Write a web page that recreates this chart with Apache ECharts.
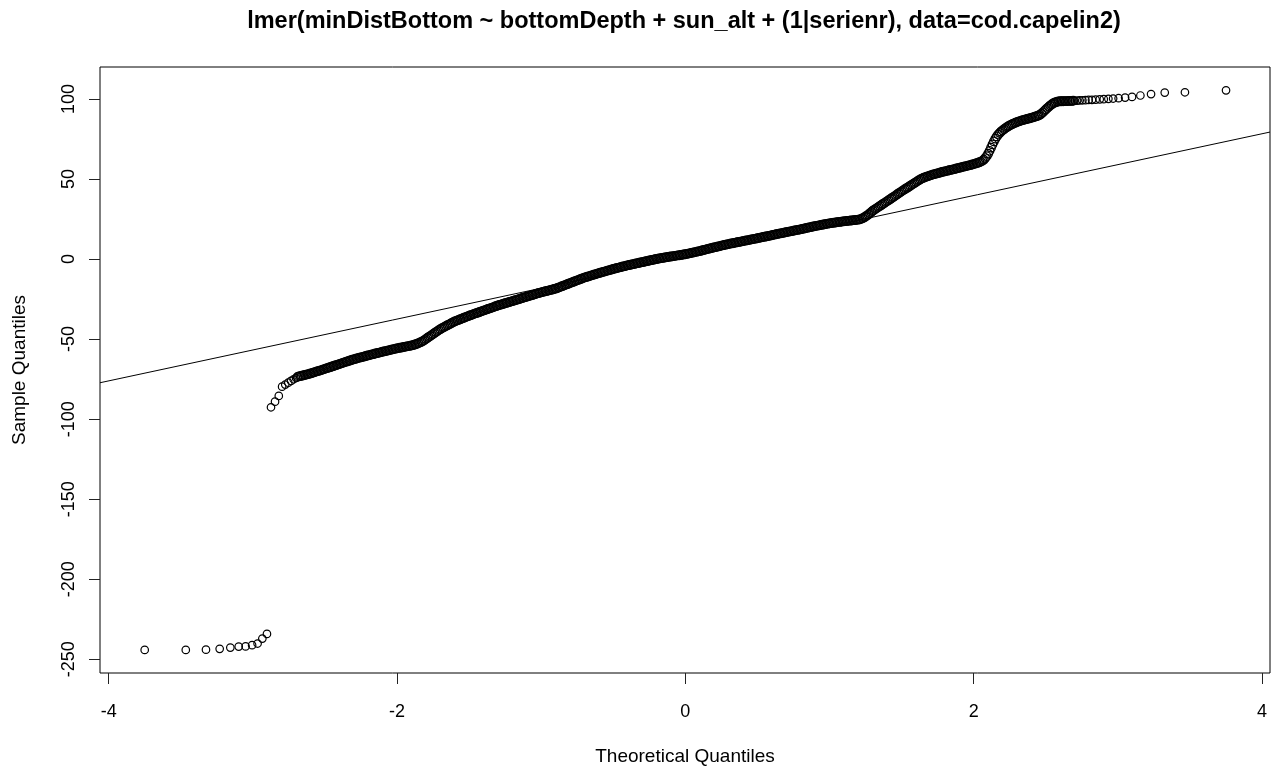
<!DOCTYPE html>
<html>
<head>
<meta charset="utf-8">
<script src="https://cdn.jsdelivr.net/npm/echarts@6/dist/echarts.min.js"></script>
<style>
  html, body { margin: 0; padding: 0; background: #fff; }
  #chart { width: 1282px; height: 771px; }
</style>
</head>
<body>
<div id="chart"></div>
<script>
// Normal Q-Q plot of the model residuals
const plotTitle = 'lmer(minDistBottom ~ bottomDepth + sun_alt + (1|serienr), data=cod.capelin2)';
const xAxisTitle = 'Theoretical Quantiles';
const yAxisTitle = 'Sample Quantiles';

const xTicks = [-4, -2, 0, 2, 4];
const yTicks = [-250, -200, -150, -100, -50, 0, 50, 100];

// lowest order statistics (theoretical quantile, sample quantile)
const lowerTheo = [-3.75, -3.465, -3.325, -3.23, -3.156, -3.098, -3.05, -3.005, -2.967, -2.934,
  -2.902, -2.874, -2.846, -2.82, -2.797, -2.775, -2.754, -2.735, -2.717, -2.70];
const lowerSample = [-244.2, -244.2, -244.0, -243.5, -242.7, -242.1, -242.0, -241.2, -240.2, -237.1,
  -234.2, -92.6, -89.1, -85.5, -79.7, -78.4, -77.2, -76.1, -75.1, -74.3];

// bulk of the sample, one value per 0.01 of theoretical quantile from -2.69 to 2.69
const bulkStart = -2.69;
const bulkStep = 0.01;
const bulkSample = [
  -73.6, -73.3, -73.1, -72.9, -72.7, -72.4, -72.2, -72.0, -71.7, -71.5,
  -71.2, -70.9, -70.6, -70.3, -70.0, -69.8, -69.5, -69.2, -68.9, -68.6,
  -68.3, -68.0, -67.7, -67.4, -67.1, -66.8, -66.5, -66.2, -65.9, -65.6,
  -65.3, -65.0, -64.7, -64.4, -64.1, -63.8, -63.5, -63.2, -62.9, -62.6,
  -62.4, -62.1, -61.9, -61.6, -61.4, -61.2, -60.9, -60.7, -60.4, -60.2,
  -60.0, -59.7, -59.5, -59.3, -59.0, -58.8, -58.6, -58.4, -58.1, -57.9,
  -57.7, -57.5, -57.3, -57.1, -56.9, -56.6, -56.4, -56.2, -56.0, -55.8,
  -55.6, -55.4, -55.3, -55.1, -54.9, -54.7, -54.5, -54.4, -54.2, -54.0,
  -53.8, -53.5, -53.2, -52.9, -52.5, -52.1, -51.7, -51.2, -50.6, -50.0,
  -49.3, -48.7, -48.1, -47.5, -46.9, -46.2, -45.6, -45.0, -44.4, -43.8,
  -43.3, -42.8, -42.3, -41.8, -41.3, -40.9, -40.4, -39.9, -39.4, -39.0,
  -38.6, -38.3, -37.9, -37.6, -37.2, -36.8, -36.5, -36.1, -35.8, -35.4,
  -35.1, -34.8, -34.4, -34.1, -33.8, -33.5, -33.2, -32.8, -32.5, -32.2,
  -31.9, -31.6, -31.2, -30.9, -30.6, -30.3, -30.0, -29.6, -29.3, -29.0,
  -28.7, -28.5, -28.2, -27.9, -27.6, -27.4, -27.1, -26.8, -26.6, -26.3,
  -26.0, -25.7, -25.5, -25.2, -24.9, -24.6, -24.3, -24.1, -23.8, -23.5,
  -23.2, -23.0, -22.7, -22.4, -22.2, -21.9, -21.6, -21.3, -21.1, -20.8,
  -20.6, -20.3, -20.1, -19.9, -19.7, -19.4, -19.2, -19.0, -18.7, -18.5,
  -18.2, -17.8, -17.5, -17.1, -16.8, -16.4, -16.1, -15.7, -15.4, -15.0,
  -14.7, -14.3, -14.0, -13.6, -13.3, -13.0, -12.6, -12.3, -11.9, -11.6,
  -11.3, -11.0, -10.8, -10.5, -10.2, -9.9, -9.6, -9.4, -9.1, -8.8,
  -8.5, -8.3, -8.0, -7.8, -7.5, -7.2, -7.0, -6.7, -6.5, -6.2,
  -6.0, -5.7, -5.5, -5.3, -5.0, -4.8, -4.6, -4.4, -4.1, -3.9,
  -3.7, -3.5, -3.3, -3.1, -2.9, -2.7, -2.5, -2.3, -2.1, -1.9,
  -1.7, -1.5, -1.3, -1.1, -0.9, -0.7, -0.5, -0.3, -0.1, 0.1,
  0.3, 0.4, 0.6, 0.7, 0.9, 1.0, 1.2, 1.3, 1.5, 1.6,
  1.7, 1.9, 2.0, 2.2, 2.3, 2.4, 2.6, 2.7, 2.9, 3.0,
  3.2, 3.4, 3.6, 3.8, 4.0, 4.2, 4.4, 4.6, 4.8, 5.0,
  5.2, 5.5, 5.7, 5.9, 6.2, 6.4, 6.6, 6.8, 7.1, 7.3,
  7.5, 7.7, 7.9, 8.1, 8.4, 8.6, 8.8, 9.0, 9.2, 9.4,
  9.6, 9.8, 9.9, 10.1, 10.3, 10.5, 10.7, 10.8, 11.0, 11.2,
  11.4, 11.6, 11.7, 11.9, 12.1, 12.3, 12.5, 12.6, 12.8, 13.0,
  13.2, 13.4, 13.6, 13.8, 14.0, 14.1, 14.3, 14.5, 14.7, 14.9,
  15.1, 15.3, 15.5, 15.7, 15.9, 16.0, 16.2, 16.4, 16.6, 16.8,
  17.0, 17.2, 17.3, 17.5, 17.7, 17.9, 18.1, 18.2, 18.4, 18.6,
  18.8, 19.0, 19.2, 19.4, 19.6, 19.8, 20.0, 20.2, 20.4, 20.6,
  20.8, 20.9, 21.1, 21.3, 21.5, 21.6, 21.8, 22.0, 22.1, 22.3,
  22.4, 22.6, 22.7, 22.8, 23.0, 23.1, 23.2, 23.3, 23.5, 23.6,
  23.7, 23.8, 23.9, 24.0, 24.1, 24.2, 24.3, 24.4, 24.5, 24.6,
  24.8, 25.1, 25.5, 26.0, 26.6, 27.2, 27.9, 28.6, 29.4, 30.2,
  30.8, 31.4, 32.0, 32.6, 33.2, 33.8, 34.4, 35.0, 35.6, 36.2,
  36.8, 37.4, 38.0, 38.6, 39.2, 39.8, 40.5, 41.1, 41.7, 42.3,
  42.9, 43.5, 44.1, 44.6, 45.2, 45.8, 46.4, 47.0, 47.5, 48.1,
  48.7, 49.3, 49.8, 50.3, 50.7, 51.1, 51.4, 51.7, 52.0, 52.3,
  52.6, 52.9, 53.1, 53.4, 53.6, 53.9, 54.1, 54.4, 54.6, 54.8,
  55.0, 55.2, 55.5, 55.7, 55.9, 56.1, 56.3, 56.6, 56.8, 57.0,
  57.2, 57.5, 57.7, 57.9, 58.1, 58.4, 58.6, 58.8, 59.1, 59.3,
  59.6, 59.9, 60.2, 60.5, 60.9, 61.4, 62.1, 63.1, 64.3, 65.8,
  67.6, 69.6, 71.6, 73.5, 75.2, 76.6, 77.8, 78.8, 79.7, 80.4,
  81.1, 81.8, 82.4, 83.0, 83.5, 84.0, 84.4, 84.8, 85.2, 85.6,
  85.9, 86.2, 86.5, 86.8, 87.0, 87.3, 87.5, 87.7, 88.0, 88.2,
  88.5, 88.8, 89.1, 89.4, 89.7, 90.2, 90.9, 91.7, 92.6, 93.5,
  94.3, 95.1, 95.9, 96.6, 97.2, 97.7, 98.0, 98.3, 98.5, 98.6,
  98.6, 98.6, 98.7, 98.7, 98.7, 98.8, 98.8, 98.8, 98.9
];

// highest order statistics (theoretical quantile, sample quantile)
const upperTheo = [2.70, 2.717, 2.735, 2.754, 2.775, 2.797, 2.82, 2.846, 2.874, 2.902,
  2.934, 2.967, 3.005, 3.05, 3.098, 3.156, 3.23, 3.325, 3.465, 3.75];
const upperSample = [98.9, 99.0, 99.1, 99.2, 99.3, 99.4, 99.5, 99.6, 99.8, 99.9,
  100.1, 100.3, 100.5, 100.9, 101.3, 102.2, 103.1, 104.0, 104.2, 105.4];

// reference line through the quartiles
const lineIntercept = 1.1;
const lineSlope = 19.3;

// plot region limits
const xMin = -4.06, xMax = 4.055;
const yMin = -258.6, yMax = 120;

const tailPoints = [];
lowerTheo.forEach((t, i) => tailPoints.push([t, lowerSample[i]]));
upperTheo.forEach((t, i) => tailPoints.push([t, upperSample[i]]));
const bulkPoints = bulkSample.map((v, i) => [+(bulkStart + i * bulkStep).toFixed(2), v]);

const refLine = [xMin, xMax].map(x => [x, lineIntercept + lineSlope * x]);

const FONT = '"Liberation Sans", Arial, sans-serif';

const ringStyle = { color: 'rgba(0,0,0,0)', borderColor: '#000', opacity: 1 };

const chart = echarts.init(document.getElementById('chart'), null, { renderer: 'canvas' });
chart.setOption({
  animation: false,
  backgroundColor: '#fff',
  grid: {
    left: 100, right: 12, top: 67, bottom: 98,
    show: true, borderColor: '#000', borderWidth: 1, backgroundColor: 'transparent'
  },
  xAxis: {
    type: 'value', min: xMin, max: xMax,
    position: 'bottom',
    axisLine: { show: false, onZero: false },
    splitLine: { show: false },
    axisTick: { show: true, inside: false, length: 11, customValues: xTicks,
      lineStyle: { color: '#222', width: 1 } },
    axisLabel: { show: true, customValues: xTicks, margin: 30,
      color: '#000', fontSize: 18, fontFamily: FONT }
  },
  yAxis: {
    type: 'value', min: yMin, max: yMax,
    position: 'left',
    axisLine: { show: false, onZero: false },
    splitLine: { show: false },
    axisTick: { show: true, inside: false, length: 11, customValues: yTicks,
      lineStyle: { color: '#222', width: 1 } },
    axisLabel: { show: true, customValues: yTicks, rotate: 90, margin: 22,
      color: '#000', fontSize: 18, fontFamily: FONT }
  },
  graphic: [
    { type: 'text', x: 684, y: 22,
      style: { text: plotTitle, font: 'bold 23.5px ' + FONT, fill: '#000',
        align: 'center', verticalAlign: 'middle' } },
    { type: 'text', x: 685, y: 757,
      style: { text: xAxisTitle, font: '19px ' + FONT, fill: '#000',
        align: 'center', verticalAlign: 'middle' } },
    { type: 'text', x: 20, y: 370, rotation: Math.PI / 2,
      style: { text: yAxisTitle, font: '19px ' + FONT, fill: '#000',
        align: 'center', verticalAlign: 'middle' } }
  ],
  series: [
    {
      type: 'scatter',
      data: tailPoints,
      symbol: 'circle',
      symbolSize: 7.5,
      itemStyle: Object.assign({ borderWidth: 1.2 }, ringStyle),
      emphasis: { disabled: true },
      silent: true
    },
    {
      type: 'scatter',
      data: bulkPoints,
      symbol: 'circle',
      symbolSize: 8.5,
      itemStyle: Object.assign({ borderWidth: 1.3 }, ringStyle),
      emphasis: { disabled: true },
      silent: true
    },
    {
      type: 'line',
      data: refLine,
      symbol: 'none',
      lineStyle: { color: '#000', width: 1 },
      clip: true,
      silent: true,
      z: 3
    }
  ]
});
</script>
</body>
</html>
